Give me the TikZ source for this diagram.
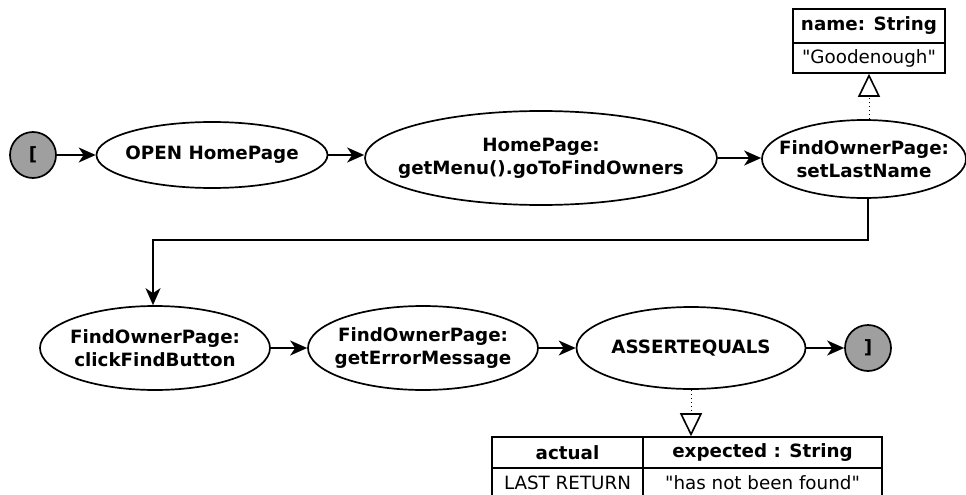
\documentclass[tikz,border=0pt]{standalone}
\usepackage{fontspec}
\setmainfont{DejaVu Sans}
\usetikzlibrary{shapes.geometric,arrows.meta,calc}
\begin{document}
\begin{tikzpicture}[x=1pt,y=-1pt,
  every node/.style={font=\fontsize{18.3}{23}\selectfont\bfseries, align=center, inner sep=0pt},
  state/.style={ellipse, draw, line width=1.7pt, fill=white},
  terminal/.style={circle, draw, line width=1.7pt, fill=gray!75, minimum size=46pt},
  flow/.style={line width=1.7pt, -{Stealth[length=17pt,width=15pt,inset=5pt]}},
  link/.style={line width=1pt, dash pattern=on 1pt off 3pt,
    -{Triangle[open,length=23pt,width=22pt,line width=1.6pt]}},
  cell/.style={rectangle, draw, line width=1.6pt},
  valtext/.style={font=\fontsize{18.3}{20}\selectfont}
]
\useasboundingbox (0,0) rectangle (966,495);

% first row: ellipse outlines, then their captions
\node[terminal] (start) at (33,155) {[};
\node[state, minimum width=231pt, minimum height=66pt] (open) at (212,155) {};
\node[state, minimum width=352pt, minimum height=94pt] (menu) at (541,158) {};
\node[state, minimum width=204pt, minimum height=78pt] (setname) at (864,159) {};
\node (opentxt) at (open) {OPEN HomePage};
\node (menutxt) at (menu) {HomePage:\\getMenu().goToFindOwners};
\node (setnametxt) at (setname) {FindOwnerPage:\\setLastName};

% second row
\node[state, minimum width=230pt, minimum height=84pt] (click) at (155,348) {};
\node[state, minimum width=230pt, minimum height=84pt] (geterr) at (423,348) {};
\node[state, minimum width=229pt, minimum height=82pt] (assert) at (691,348) {};
\node[terminal] (stop) at (868,348) {]};
\node (clicktxt) at (click) {FindOwnerPage:\\clickFindButton};
\node (geterrtxt) at (geterr) {FindOwnerPage:\\getErrorMessage};
\node (asserttxt) at (assert) {ASSERTEQUALS};

% parameter box of setLastName
\node[cell, minimum width=152pt, minimum height=34pt] (namehead) at (869,26) {name: String};
\node[cell, minimum width=152pt, minimum height=30pt, valtext] (nameval) at (869,58) {\textquotedbl Goodenough\textquotedbl};

% parameter table of ASSERTEQUALS
\node[cell, minimum width=151pt, minimum height=31pt] (acthead) at (567.5,452.5) {actual};
\node[cell, minimum width=239pt, minimum height=31pt] (exphead) at (762.5,452.5) {expected : String};
\node[cell, minimum width=151pt, minimum height=30pt, valtext] (actval) at (567.5,483) {LAST RETURN};
\node[cell, minimum width=239pt, minimum height=30pt, valtext] (expval) at (762.5,483) {\textquotedbl has not been found\textquotedbl};

% control flow
\draw[flow] (start) -- (open);
\draw[flow] (open) -- (open -| menu.west);
\draw[flow] (menu.east) -- (menu.east -| setname.west);
\draw[flow] ($(setname.south)+(4,0)$) |- (153,240) -- (click.north -| 153,0);
\draw[flow] (click) -- (geterr);
\draw[flow] (geterr) -- (assert);
\draw[flow] (assert) -- (stop);

% parameter links
\draw[link] ($(setname.north)+(5,0)$) -- ($(nameval.south)$);
\draw[link] (assert.south) -- (assert.south |- exphead.north);
\end{tikzpicture}
\end{document}
